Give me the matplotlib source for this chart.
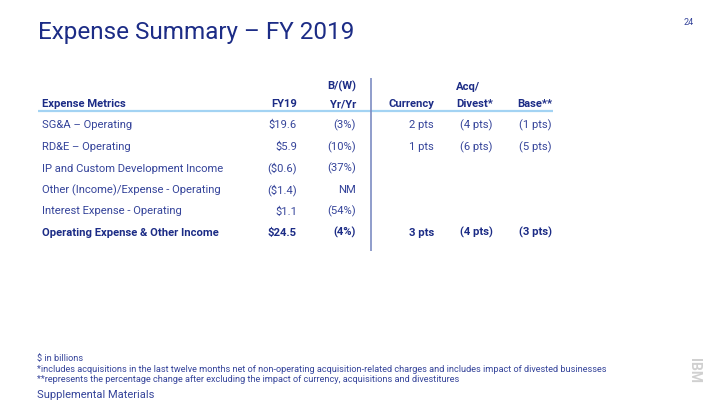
import matplotlib.pyplot as plt

plt.rcParams["font.family"] = ["Roboto", "DejaVu Sans"]

TITLE = "Expense Summary \u2013 FY 2019"
PAGE = "24"

header_top = ["", "", "B/(W)", "", "Acq/", ""]
header = ["Expense Metrics", "FY19", "Yr/Yr", "Currency", "Divest*", "Base**"]

metrics = [
    "SG&A \u2013 Operating",
    "RD&E \u2013 Operating",
    "IP and Custom Development Income",
    "Other (Income)/Expense - Operating",
    "Interest Expense - Operating",
    "Operating Expense & Other Income",
]
fy19 = ["$19.6", "$5.9", "($0.6)", "($1.4)", "$1.1", "$24.5"]
yr_yr = ["(3%)", "(10%)", "(37%)", "NM", "(54%)", "(4%)"]
currency = ["2 pts", "1 pts", "", "", "", "3 pts"]
acq_divest = ["(4 pts)", "(6 pts)", "", "", "", "(4 pts)"]
base = ["(1 pts)", "(5 pts)", "", "", "", "(3 pts)"]
bold_rows = [False, False, False, False, False, True]

footnotes = [
    "$ in billions",
    "*includes acquisitions in the last twelve months net of non-operating "
    "acquisition-related charges and includes impact of divested businesses",
    "**represents the percentage change after excluding the impact of "
    "currency, acquisitions and divestitures",
]
footer = "Supplemental Materials"

NAVY = "#1c2c86"
BODY = "#35449a"
FS = 8.1

fig = plt.figure(figsize=(7.2, 4.05), dpi=100)
ax = fig.add_axes([0, 0, 1, 1])
ax.set_xlim(0, 720)
ax.set_ylim(405, 0)
ax.axis("off")

ax.text(38, 39.5, TITLE, fontsize=17.5, color=NAVY, va="baseline")
ax.text(694, 25, PAGE, fontsize=6.5, color=BODY, va="baseline", ha="right")

# column anchors: first column left aligned, others right aligned
col_x = [42, 297, 356, 434, 493, 552]
cols = [metrics, fy19, yr_yr, currency, acq_divest, base]

for i, lab in enumerate(header_top):
    if lab:
        ha = "right" if i == 2 else "center"
        x = col_x[i] if i == 2 else 468
        ax.text(x, 89.5, lab, fontsize=FS, weight="bold", color=NAVY,
                ha=ha, va="baseline")
for i, lab in enumerate(header):
    ax.text(col_x[i], 107, lab, fontsize=FS, weight="bold", color=NAVY,
            ha="left" if i == 0 else "right", va="baseline")

ax.plot([38, 553], [110.8, 110.8], color="#a3d3f3", lw=1.6,
        solid_capstyle="butt")
ax.plot([371, 371], [78, 251], color="#7d8cc2", lw=1.2,
        solid_capstyle="butt")

row_y = [128.3, 150, 171.7, 193.3, 214.5, 236]
for r, y in enumerate(row_y):
    bold = bold_rows[r]
    for i, col in enumerate(cols):
        if not col[r]:
            continue
        ax.text(col_x[i], y, col[r], fontsize=FS,
                weight="bold" if bold else "normal",
                color=NAVY if bold else BODY,
                ha="left" if i == 0 else "right", va="baseline")

for y, line in zip([360.7, 371.8, 382.2], footnotes):
    ax.text(37, y, line, fontsize=6.6, color=BODY, va="baseline")
ax.text(37, 398.3, footer, fontsize=8.0, color=BODY, va="baseline")

ax.text(694, 370, "IBM", fontsize=10, weight="bold", color="#d0d0d0",
        rotation=-90, ha="center", va="center")

fig.savefig("out.png", dpi=100)
